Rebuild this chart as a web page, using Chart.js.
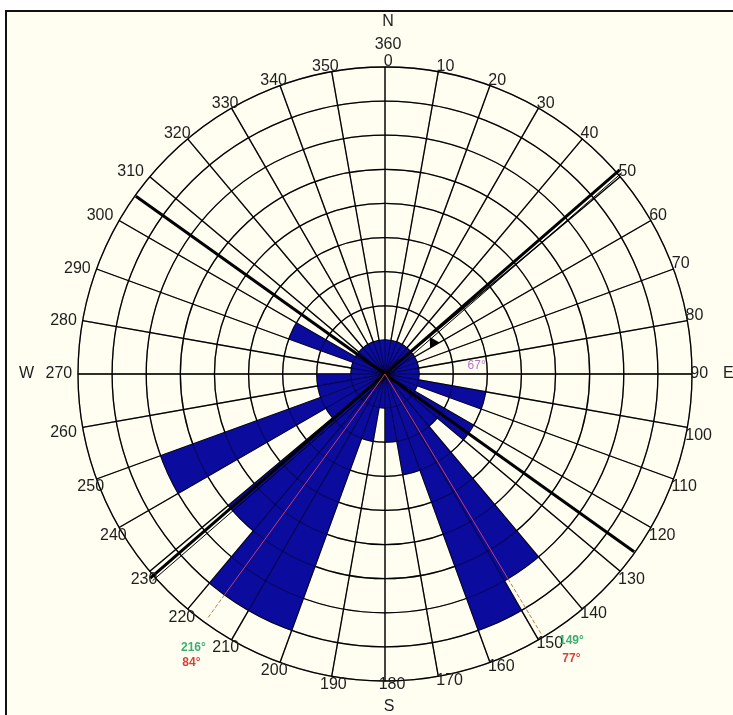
<!DOCTYPE html>
<html>
<head>
<meta charset="utf-8">
<script src="https://cdn.jsdelivr.net/npm/chart.js@4/dist/chart.umd.min.js"></script>
<style>
  html, body { margin: 0; padding: 0; background: #ffffff; overflow: hidden; }
  canvas { display: block; }
</style>
</head>
<body>
<canvas id="rose" width="733" height="715"></canvas>
<script>
// Direction classes, 10 degrees wide, clockwise from north
const directions = [0, 10, 20, 30, 40, 50, 60, 70, 80, 90, 100, 110, 120, 130, 140, 150, 160, 170,
                    180, 190, 200, 210, 220, 230, 240, 250, 260, 270, 280, 290, 300, 310, 320, 330, 340, 350];
const tickLabels = directions.map(d => String(d));

// Number of readings falling in each class
const counts = [1, 1, 1, 1, 1, 1, 1, 1, 1, 1,
                3, 1, 3, 2, 7, 8, 3, 2, 1, 2,
                8, 8, 6, 2, 7, 2, 2, 1, 1, 3,
                1, 1, 1, 1, 1, 1];

const ringMax = 9;

// Trend lines drawn across the rose (degrees)
const trendA = 125.5;
const trendB = 49;
// Mean directions with their angular spread
const meanDirs = [216, 149];
const meanLabels = ['216°', '149°'];
const spreadLabels = ['84°', '77°'];
const betweenLabel = '67°';
const cardinals = ['N', 'E', 'S', 'W'];

const LABEL_FONT = '16px "Liberation Sans", Arial, sans-serif';

function polar(scale, deg, dist) {
  const a = deg * Math.PI / 180;
  return { x: scale.xCenter + dist * Math.sin(a), y: scale.yCenter - dist * Math.cos(a) };
}

// how far left of the spoke end a label starts (share of its width) and its vertical shift
function labelShift(deg) {
  let f, dy;
  if (deg === 180) f = 0.2;
  else if (deg < 180) f = 0.04;
  else if (deg < 200) f = 0.4;
  else if (deg < 255) f = 0.68;
  else if (deg < 315) f = 1.18;
  else if (deg < 325) f = 0.85;
  else f = 0.7;
  if (deg === 90 || deg === 270) dy = 0;
  else if (deg < 90) dy = -5;
  else if (deg < 140) dy = 8;
  else if (deg <= 180) dy = 4;
  else if (deg < 260) dy = 8;
  else if (deg < 270) dy = 5;
  else if (deg < 300) dy = 0;
  else dy = -5;
  return { f, dy };
}

const roseDecor = {
  id: 'roseDecor',
  beforeDraw(chart) {
    const ctx = chart.ctx;
    ctx.save();
    ctx.fillStyle = '#ffffff';
    ctx.fillRect(0, 0, chart.width, chart.height);
    ctx.fillStyle = '#fffef1';
    ctx.fillRect(6, 11, chart.width, chart.height);
    ctx.strokeStyle = '#111111';
    ctx.lineWidth = 2;
    ctx.strokeRect(6, 11, chart.width + 10, chart.height + 10);
    ctx.restore();
  },
  afterDatasetsDraw(chart) {
    const ctx = chart.ctx;
    const s = chart.scales.r;
    const R = s.getDistanceFromCenterForValue(ringMax);

    // grid showing faintly through the petals
    ctx.save();
    ctx.globalAlpha = 0.36;
    s.drawGrid();
    ctx.restore();

    ctx.save();
    ctx.lineCap = 'butt';

    // trend line A
    let p1 = polar(s, trendA, R - 1), p2 = polar(s, trendA + 180, R - 1);
    ctx.strokeStyle = '#000000';
    ctx.lineWidth = 3;
    ctx.beginPath(); ctx.moveTo(p1.x, p1.y); ctx.lineTo(p2.x, p2.y); ctx.stroke();

    // trend line B, doubled
    p1 = polar(s, trendB, R + 4); p2 = polar(s, trendB + 180, R + 4);
    ctx.beginPath(); ctx.moveTo(p1.x, p1.y); ctx.lineTo(p2.x, p2.y); ctx.stroke();
    const na = (trendB + 90) * Math.PI / 180;
    const ox = 3.5 * Math.sin(na), oy = -3.5 * Math.cos(na);
    ctx.lineWidth = 1;
    ctx.beginPath(); ctx.moveTo(p1.x + ox, p1.y + oy); ctx.lineTo(p2.x + ox, p2.y + oy); ctx.stroke();

    // arrow head on the angle between the trends
    const t1 = polar(s, 50.5, 58), t2 = polar(s, 60, 52), t3 = polar(s, 60, 63);
    ctx.fillStyle = '#000000';
    ctx.beginPath(); ctx.moveTo(t1.x, t1.y); ctx.lineTo(t2.x, t2.y); ctx.lineTo(t3.x, t3.y); ctx.closePath(); ctx.fill();

    // mean direction lines
    meanDirs.forEach(d => {
      const bin = Math.floor(d / 10);
      const inner = s.getDistanceFromCenterForValue(counts[bin]);
      const c = polar(s, d, 0), e = polar(s, d, inner), f = polar(s, d, R - 4);
      ctx.setLineDash([]);
      ctx.strokeStyle = 'rgba(215,70,90,0.9)';
      ctx.lineWidth = 1;
      ctx.beginPath(); ctx.moveTo(c.x, c.y); ctx.lineTo(e.x, e.y); ctx.stroke();
      ctx.setLineDash([4, 2]);
      ctx.strokeStyle = 'rgba(170,110,60,0.9)';
      ctx.beginPath(); ctx.moveTo(e.x, e.y); ctx.lineTo(f.x, f.y); ctx.stroke();
    });
    ctx.setLineDash([]);

    // direction tick labels
    ctx.font = LABEL_FONT;
    ctx.fillStyle = '#1e1e1e';
    ctx.textAlign = 'left';
    ctx.textBaseline = 'middle';
    tickLabels.forEach((txt, i) => {
      const pt = s.getPointPosition(i, R);
      const w = ctx.measureText(txt).width;
      const sh = labelShift(directions[i]);
      ctx.fillText(txt, pt.x - sh.f * w - 1, pt.y + sh.dy);
    });

    // 360 above the 0 label, cardinal letters
    const top = s.getPointPosition(0, R);
    ctx.textAlign = 'center';
    ctx.fillText('360', top.x + 3, top.y - 22);
    ctx.font = '16px "Liberation Sans", Arial, sans-serif';
    ctx.fillText(cardinals[0], top.x + 3, top.y - 45);
    const bottom = s.getPointPosition(18, R);
    ctx.fillText(cardinals[2], bottom.x + 4, bottom.y + 26);
    const right = s.getPointPosition(9, R);
    ctx.textAlign = 'left';
    ctx.fillText(cardinals[1], right.x + 31, right.y);
    const left = s.getPointPosition(27, R);
    ctx.textAlign = 'right';
    ctx.fillText(cardinals[3], left.x - 44, left.y);

    // angle annotations
    ctx.textAlign = 'center';
    ctx.font = 'bold 12px "Liberation Sans", Arial, sans-serif';
    const m1 = polar(s, 215, R + 27);
    ctx.fillStyle = '#3dae72';
    ctx.fillText(meanLabels[0], m1.x, m1.y);
    ctx.fillStyle = '#d8413f';
    ctx.fillText(spreadLabels[0], m1.x - 2, m1.y + 15);
    const m2 = polar(s, 145, R + 18);
    ctx.fillStyle = '#3dae72';
    ctx.fillText(meanLabels[1], m2.x, m2.y);
    ctx.fillStyle = '#d8413f';
    ctx.fillText(spreadLabels[1], m2.x, m2.y + 18);
    const g = polar(s, 85, 92);
    ctx.font = '12px "Liberation Sans", Arial, sans-serif';
    ctx.fillStyle = '#b774c4';
    ctx.fillText(betweenLabel, g.x, g.y);
    ctx.restore();
  }
};

new Chart(document.getElementById('rose'), {
  type: 'polarArea',
  data: {
    labels: tickLabels,
    datasets: [{
      data: counts,
      backgroundColor: '#0b0b9e',
      borderWidth: 0
    }]
  },
  options: {
    responsive: false,
    devicePixelRatio: 1,
    animation: false,
    layout: { padding: { left: 78, right: 41, top: 67, bottom: 34 } },
    plugins: { legend: { display: false }, tooltip: { enabled: false } },
    scales: {
      r: {
        min: 0,
        max: ringMax,
        startAngle: 0,
        ticks: { display: false, stepSize: 1 },
        grid: { circular: true, color: '#000000', lineWidth: 1.3 },
        angleLines: { display: true, color: '#000000', lineWidth: 1.3 },
        pointLabels: { display: false }
      }
    }
  },
  plugins: [roseDecor]
});
</script>
</body>
</html>
